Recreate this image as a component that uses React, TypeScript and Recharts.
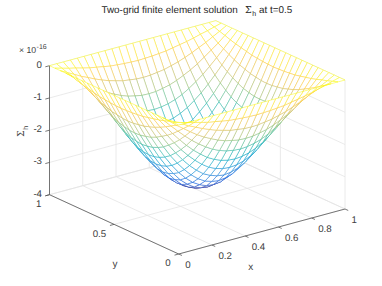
import React from "react";
import { ScatterChart, Scatter, XAxis, YAxis } from "recharts";

const W = 382;
const H = 286;

const xNodes = [0, 0.042, 0.083, 0.125, 0.167, 0.208, 0.25, 0.292, 0.333, 0.375, 0.417, 0.458, 0.5, 0.542, 0.583, 0.625, 0.667, 0.708, 0.75, 0.792, 0.833, 0.875, 0.917, 0.958, 1];
const yNodes = xNodes;

// Depth of the surface in units of 1e-16, one corner of the symmetric bowl
const depthQuarter: number[][] = [
  [0, 0, 0, 0, 0, 0, 0, 0, 0, 0, 0, 0, 0],
  [0, 0.06, 0.12, 0.17, 0.23, 0.28, 0.32, 0.36, 0.4, 0.42, 0.44, 0.45, 0.46],
  [0, 0.12, 0.23, 0.35, 0.45, 0.55, 0.64, 0.72, 0.78, 0.84, 0.87, 0.9, 0.91],
  [0, 0.17, 0.35, 0.51, 0.67, 0.82, 0.95, 1.06, 1.16, 1.24, 1.29, 1.33, 1.34],
  [0, 0.23, 0.45, 0.67, 0.88, 1.07, 1.24, 1.39, 1.52, 1.62, 1.69, 1.73, 1.75],
  [0, 0.28, 0.55, 0.82, 1.07, 1.3, 1.51, 1.69, 1.85, 1.97, 2.06, 2.11, 2.13],
  [0, 0.32, 0.64, 0.95, 1.24, 1.51, 1.75, 1.96, 2.14, 2.29, 2.39, 2.45, 2.47],
  [0, 0.36, 0.72, 1.06, 1.39, 1.69, 1.96, 2.2, 2.4, 2.57, 2.68, 2.75, 2.78],
  [0, 0.4, 0.78, 1.16, 1.52, 1.85, 2.14, 2.4, 2.62, 2.8, 2.93, 3, 3.03],
  [0, 0.42, 0.84, 1.24, 1.62, 1.97, 2.29, 2.57, 2.8, 2.99, 3.12, 3.21, 3.23],
  [0, 0.44, 0.87, 1.29, 1.69, 2.06, 2.39, 2.68, 2.93, 3.12, 3.27, 3.35, 3.38],
  [0, 0.45, 0.9, 1.33, 1.73, 2.11, 2.45, 2.75, 3, 3.21, 3.35, 3.44, 3.47],
  [0, 0.46, 0.91, 1.34, 1.75, 2.13, 2.47, 2.78, 3.03, 3.23, 3.38, 3.47, 3.5],
];
const last = xNodes.length - 1;
const zAt = (i: number, j: number) =>
  -depthQuarter[Math.min(i, last - i)][Math.min(j, last - j)];

const xTicks = [0, 0.2, 0.4, 0.6, 0.8, 1];
const yTicks = [0, 0.5, 1];
const zTicks = [0, -1, -2, -3, -4];
const titleText = "Two-grid finite element solution";
const titleTail = "at t=0.5";

// Orthographic view of the 3-D box onto the page
function project(x: number, y: number, z: number) {
  return {
    px: 178.7 + 166.3 * x - 129.2 * y,
    py: 254 - 45 * x - 59.3 * y - 32.25 * (z + 4),
  };
}

const parula: number[][] = [
  [53, 42, 135], [15, 92, 221], [20, 129, 214], [6, 164, 202], [46, 183, 164],
  [135, 191, 119], [209, 187, 89], [254, 200, 50], [249, 251, 14],
];
const zMin = -3.5;
function colorOf(z: number) {
  const t = Math.max(0, Math.min(1, (z - zMin) / (0 - zMin))) * (parula.length - 1);
  const k = Math.min(parula.length - 2, Math.floor(t));
  const f = t - k;
  const c = parula[k].map((v, n) => Math.round(v + (parula[k + 1][n] - v) * f));
  return `rgb(${c[0]},${c[1]},${c[2]})`;
}

// Quads, farthest first, so that nearer ones hide what lies behind them
const quadPoints: { px: number; py: number }[] = [];
const quadColors: string[][] = [];
for (let i = last - 1; i >= 0; i--) {
  for (let j = last - 1; j >= 0; j--) {
    const corners = [[i, j], [i + 1, j], [i + 1, j + 1], [i, j + 1]];
    corners.forEach(([a, b]) => quadPoints.push(project(xNodes[a], yNodes[b], zAt(a, b))));
    quadColors.push(
      corners.map(([a, b], n) => {
        const [c, d] = corners[(n + 1) % 4];
        return colorOf((zAt(a, b) + zAt(c, d)) / 2);
      })
    );
  }
}

const gridSegs: { px: number; py: number }[] = [];
const addGrid = (a: number[], b: number[]) => {
  gridSegs.push(project(a[0], a[1], a[2]), project(b[0], b[1], b[2]));
};
xTicks.forEach((x) => {
  addGrid([x, 0, -4], [x, 1, -4]);
  addGrid([x, 1, -4], [x, 1, 0]);
});
yTicks.forEach((y) => {
  addGrid([0, y, -4], [1, y, -4]);
  addGrid([1, y, -4], [1, y, 0]);
});
zTicks.forEach((z) => {
  addGrid([0, 1, z], [1, 1, z]);
  addGrid([1, 1, z], [1, 0, z]);
});

const axisSegs: { px: number; py: number }[] = [];
const addAxis = (a: number[], b: number[]) => {
  axisSegs.push(project(a[0], a[1], a[2]), project(b[0], b[1], b[2]));
};
addAxis([0, 1, 0], [0, 1, -4]);
addAxis([0, 1, -4], [0, 0, -4]);
addAxis([0, 0, -4], [1, 0, -4]);
zTicks.forEach((z) => addAxis([0, 1, z], [-0.025, 1, z]));
yTicks.forEach((y) => addAxis([0, y, -4], [-0.025, y, -4]));
xTicks.forEach((x) => addAxis([x, 0, -4], [x, -0.025, -4]));

const segLine = (stroke: string, width: number) => (props: any) => {
  const pts = props.points;
  const out: React.ReactNode[] = [];
  for (let n = 0; n + 1 < pts.length; n += 2) {
    out.push(
      <line key={n} x1={pts[n].x} y1={pts[n].y} x2={pts[n + 1].x} y2={pts[n + 1].y} stroke={stroke} strokeWidth={width} />
    );
  }
  return <g>{out}</g>;
};

const meshLine = (props: any) => {
  const pts = props.points;
  const out: React.ReactNode[] = [];
  for (let q = 0; q < quadColors.length; q++) {
    const c = pts.slice(q * 4, q * 4 + 4);
    out.push(
      <path key={`f${q}`} d={`M${c.map((p: any) => `${p.x},${p.y}`).join("L")}Z`} fill="#fff" stroke="none" />
    );
    c.forEach((p: any, n: number) => {
      const e = c[(n + 1) % 4];
      out.push(
        <line key={`e${q}-${n}`} x1={p.x} y1={p.y} x2={e.x} y2={e.y} stroke={quadColors[q][n]} strokeWidth={0.5} />
      );
    });
  }
  return <g>{out}</g>;
};

const noDot = () => null;
const ink = "#404040";
const sans = "'Liberation Sans', Arial, sans-serif";
const crisp = { textRendering: "geometricPrecision" as const };
const tickFont = { fontFamily: sans, fontSize: 9.7, fill: ink, ...crisp };

export default function App() {
  return (
    <div style={{ position: "absolute", left: 0, top: 0, width: W, height: H, background: "#fff" }}>
      <ScatterChart width={W} height={H} margin={{ top: 0, right: 0, bottom: 0, left: 0 }}>
        <XAxis type="number" dataKey="px" domain={[0, W]} hide />
        <YAxis type="number" dataKey="py" domain={[0, H]} reversed hide />
        <Scatter data={gridSegs} isAnimationActive={false} shape={noDot} line={segLine("#e4e4e4", 0.8)} />
        <Scatter data={axisSegs} isAnimationActive={false} shape={noDot} line={segLine("#555555", 0.8)} />
        <Scatter data={quadPoints} isAnimationActive={false} shape={noDot} line={meshLine} />

        <text x={101.5} y={12.8} fontFamily={sans} fontSize={9.9} fill="#262626" {...crisp}>{titleText}</text>
        <text x={245} y={13} fontFamily="'DejaVu Serif', serif" fontSize={9.5} fill="#262626" {...crisp}>Σ</text>
        <text x={252.3} y={16} fontFamily={sans} fontSize={7} fill="#262626" {...crisp}>h</text>
        <text x={259} y={12.8} fontFamily={sans} fontSize={9.9} fill="#262626" {...crisp}>{titleTail}</text>

        <text x={19} y={53} fontFamily={sans} fontSize={8.7} fill={ink} {...crisp}>× 10</text>
        <text x={36.6} y={49.2} fontFamily={sans} fontSize={7} fill={ink} {...crisp}>-16</text>

        {zTicks.map((z) => {
          const p = project(0, 1, z);
          return <text key={z} x={p.px - 7.5} y={p.py + 1.8} textAnchor="end" {...tickFont}>{z}</text>;
        })}
        {yTicks.map((y) => {
          const p = project(0, y, -4);
          return <text key={y} x={p.px - 8} y={p.py + 12.3} textAnchor="end" {...tickFont}>{y}</text>;
        })}
        {xTicks.map((x) => {
          const p = project(x, 0, -4);
          return <text key={x} x={p.px + 6.5} y={p.py + 13.6} {...tickFont}>{x}</text>;
        })}
        <text x={115} y={266.5} textAnchor="middle" fontFamily={sans} fontSize={10} fill={ink} {...crisp}>y</text>
        <text x={250.7} y={270} textAnchor="middle" fontFamily={sans} fontSize={10} fill={ink} {...crisp}>x</text>
        <g transform="translate(24,137) rotate(-90)">
          <text x={0} y={0} fontFamily="'DejaVu Serif', serif" fontSize={9.5} fill={ink} {...crisp}>Σ</text>
          <text x={7.3} y={3.5} fontFamily={sans} fontSize={7} fill={ink} {...crisp}>h</text>
        </g>
      </ScatterChart>
    </div>
  );
}
